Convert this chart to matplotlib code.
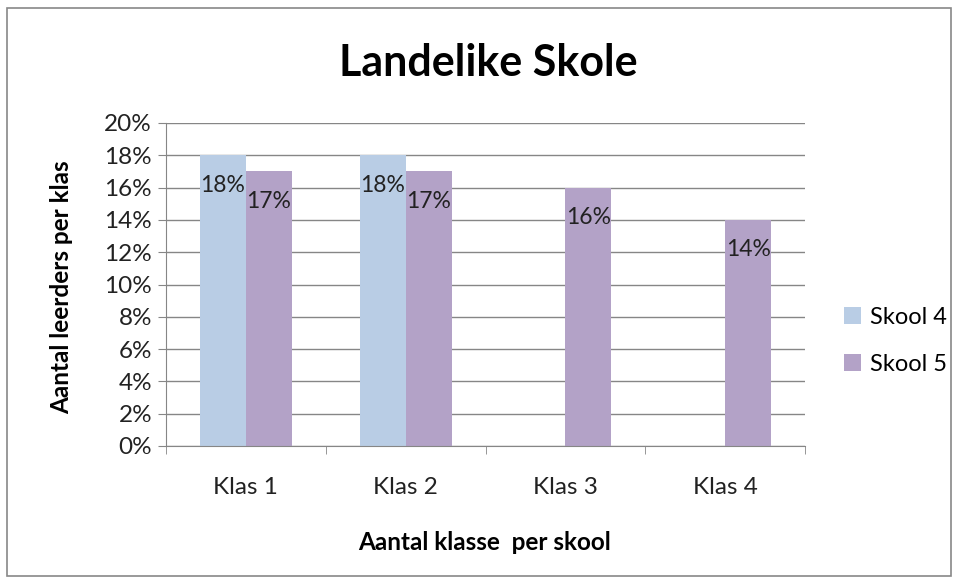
import matplotlib.pyplot as plt
from matplotlib.patches import Rectangle
import numpy as np

categories = ["Klas 1", "Klas 2", "Klas 3", "Klas 4"]
skool4 = [18, 18, np.nan, np.nan]
skool5 = [17, 17, 16, 14]
series_names = ["Skool 4", "Skool 5"]
yticks = list(range(0, 21, 2))

plt.rcParams['font.family'] = ['Lato', 'DejaVu Sans']
col4 = "#b9cde5"
col5 = "#b3a2c7"
grid_col = "#868686"

fig = plt.figure(figsize=(9.58, 5.8), dpi=100)
ax = fig.add_axes([166 / 958, 1 - 446 / 580, (805 - 166) / 958, (446 - 123) / 580])

x = np.arange(len(categories))
w = 0.2875
b4 = ax.bar(x - w / 2, skool4, w, color=col4, label=series_names[0], zorder=2)
b5 = ax.bar(x + w / 2, skool5, w, color=col5, label=series_names[1], zorder=2)

for bars, vals in [(b4, skool4), (b5, skool5)]:
    for rect, v in zip(bars, vals):
        if np.isnan(v):
            continue
        ax.annotate(f"{v:.0f}%", (rect.get_x() + rect.get_width() / 2, v),
                    xytext=(0, -14), textcoords="offset points",
                    ha="center", va="top", fontsize=16.5, color="#222222", zorder=3)

ax.set_xlim(-0.5, len(categories) - 0.5)
ax.set_ylim(0, 20)
ax.set_yticks(yticks)
ax.set_yticklabels([f"{t}%" for t in yticks], fontsize=17.5, color="#222222")
ax.yaxis.grid(True, color=grid_col, linewidth=1, zorder=0)
ax.set_axisbelow(True)

ax.set_xticks(x)
ax.set_xticklabels(categories, fontsize=17.5, color="#222222")
ax.set_xticks(np.arange(-0.5, len(categories)), minor=True)
ax.tick_params(axis="x", which="major", length=0, pad=22)
ax.tick_params(axis="x", which="minor", length=6, color=grid_col, direction="out")
ax.tick_params(axis="y", length=6, color=grid_col, direction="out", pad=4)

for s in ["top", "right"]:
    ax.spines[s].set_visible(False)
for s in ["left", "bottom"]:
    ax.spines[s].set_color(grid_col)

fig.text(488 / 958, 1 - 63 / 580, "Landelike Skole", ha="center", va="center",
         fontsize=31, fontweight="bold")
fig.text(62 / 958, 1 - 287 / 580, "Aantal leerders per klas", ha="center", va="center",
         rotation=90, fontsize=17.5, fontweight="bold")
fig.text(485 / 958, 1 - 543 / 580, "Aantal klasse  per skool", ha="center", va="center",
         fontsize=17.5, fontweight="bold")

ax.legend(loc="center left", bbox_to_anchor=(844 / 958, 1 - 341 / 580),
          bbox_transform=fig.transFigure, frameon=False, fontsize=17,
          borderpad=0, borderaxespad=0,
          handlelength=0.7, handleheight=0.7, labelspacing=1.1, handletextpad=0.4)

fig.patches.append(Rectangle((7 / 958, 4 / 580), 944 / 958, 568 / 580, transform=fig.transFigure,
                             fill=False, edgecolor="#888888", linewidth=1.2))

fig.savefig("out.png", dpi=100)
